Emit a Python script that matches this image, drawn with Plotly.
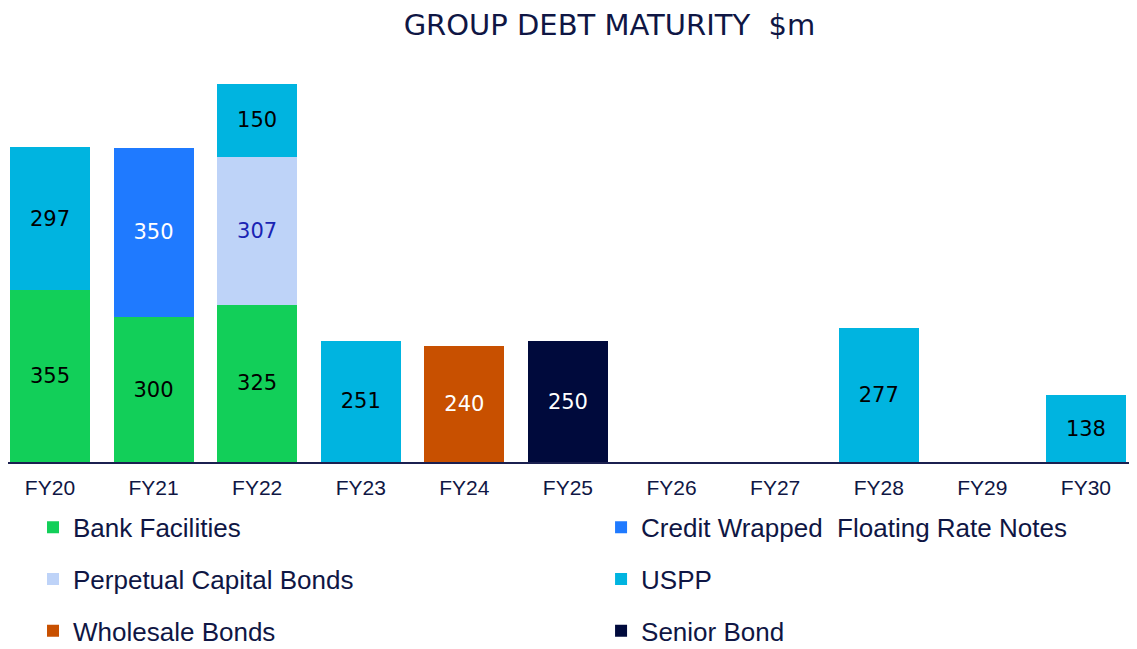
import plotly.graph_objects as go

# Debt maturity profile, $m
years = ["FY20", "FY21", "FY22", "FY23", "FY24", "FY25", "FY26", "FY27", "FY28", "FY29", "FY30"]
bank_facilities = [355, 300, 325, None, None, None, None, None, None, None, None]
credit_wrapped = [None, 350, None, None, None, None, None, None, None, None, None]
perpetual_bonds = [None, None, 307, None, None, None, None, None, None, None, None]
uspp = [297, None, 150, 251, None, None, None, None, 277, None, 138]
wholesale_bonds = [None, None, None, None, 240, None, None, None, None, None, None]
senior_bond = [None, None, None, None, None, 250, None, None, None, None, None]

NAVY = "#0F1644"

# (name, values, bar colour, label colour, legend, legend group)
series = [
    ("Bank Facilities", bank_facilities, "#12CF59", "#000000", "legend", "a"),
    ("Credit Wrapped  Floating Rate Notes", credit_wrapped, "#1F7AFF", "#FFFFFF", "legend2", "b"),
    ("Perpetual Capital Bonds", perpetual_bonds, "#BED3F8", "#1A24B4", "legend", "c"),
    ("USPP", uspp, "#00B4E0", "#000000", "legend2", "d"),
    ("Wholesale Bonds", wholesale_bonds, "#C85000", "#FFFFFF", "legend", "e"),
    ("Senior Bond", senior_bond, "#000A3C", "#FFFFFF", "legend2", "f"),
]

fig = go.Figure()
for name, vals, color, txtcolor, leg, grp in series:
    fig.add_trace(go.Bar(
        x=years, y=vals, name=name,
        marker=dict(color=color, line=dict(width=0)),
        texttemplate="%{y}", textposition="inside", insidetextanchor="middle",
        textangle=0,
        textfont=dict(family="DejaVu Sans", size=21, color=txtcolor),
        legend=leg, legendgroup=grp,
    ))

legend_common = dict(
    orientation="v", traceorder="grouped", tracegroupgap=15,
    font=dict(family="Liberation Sans, Arial", size=26, color=NAVY),
    bgcolor="rgba(0,0,0,0)", yref="container", yanchor="top", y=0.236,
    xanchor="left",
)

# page body has an 8px margin, so everything is placed 8px up/left
fig.update_layout(
    barmode="stack", bargap=0.228,
    width=1137, height=649,
    margin=dict(l=0, r=0, t=52, b=195),
    plot_bgcolor="white", paper_bgcolor="white",
    title=dict(text="GROUP DEBT MATURITY  $m", x=0.529, xanchor="center",
               yref="container", y=0.9738, yanchor="middle",
               font=dict(family="DejaVu Sans", size=29, color=NAVY)),
    xaxis=dict(showline=True, linecolor="#1B2050", linewidth=2,
               ticks="outside", ticklen=6, tickcolor="rgba(0,0,0,0)",
               range=[-0.405, 10.57],
               tickfont=dict(family="Liberation Sans, Arial", size=21, color=NAVY),
               showgrid=False),
    yaxis=dict(range=[0, 832], visible=False, showgrid=False, zeroline=False),
    legend=dict(x=0.022, **legend_common),
    legend2=dict(x=0.5216, **legend_common),
    showlegend=True,
)

fig.write_html("out.html")
